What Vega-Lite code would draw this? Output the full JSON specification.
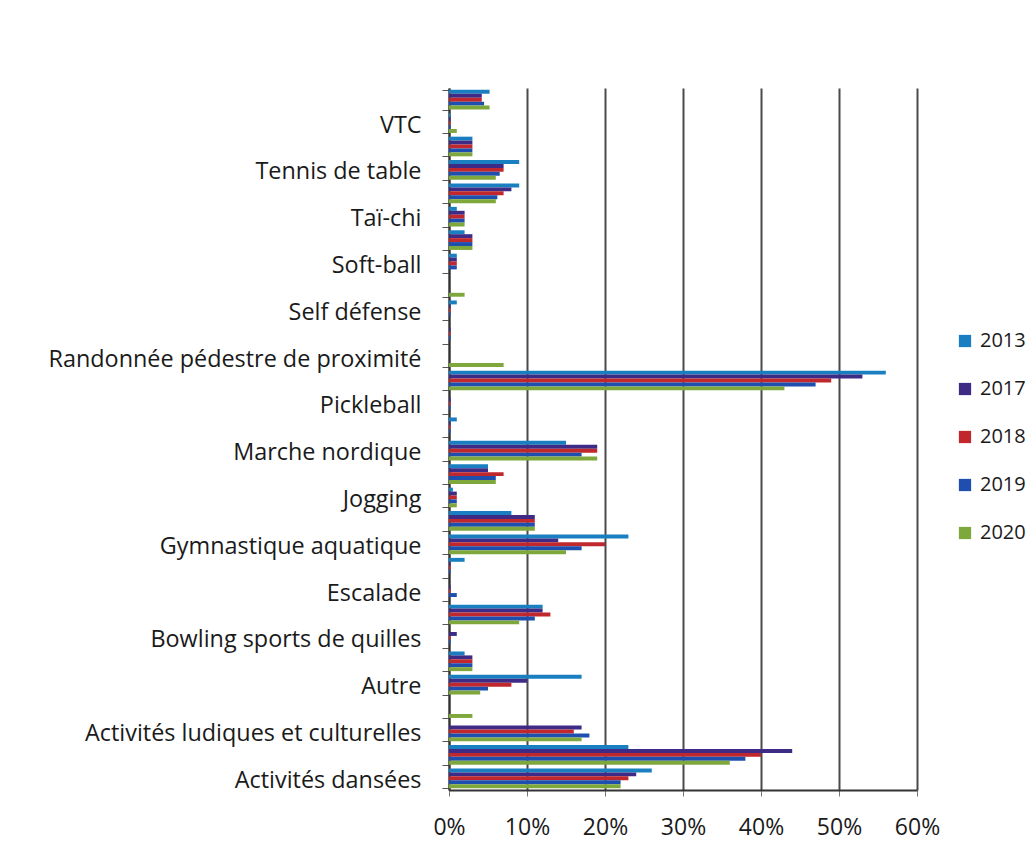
{
  "$schema": "https://vega.github.io/schema/vega-lite/v6.json",
  "width": 468,
  "height": 702,
  "autosize": {"type": "none"},
  "padding": {"left": 449, "top": 88, "right": 117, "bottom": 57},
  "background": "white",
  "config": {
    "view": {"stroke": null},
    "font": "Open Sans"
  },
  "data": {
    "values": [
      {"a": "Yoga", "y": "2013", "v": 5.2}, {"a": "Yoga", "y": "2017", "v": 4.2}, {"a": "Yoga", "y": "2018", "v": 4.2}, {"a": "Yoga", "y": "2019", "v": 4.5}, {"a": "Yoga", "y": "2020", "v": 5.2},
      {"a": "VTC", "y": "2013", "v": 0.2}, {"a": "VTC", "y": "2017", "v": 0.2}, {"a": "VTC", "y": "2018", "v": 0.2}, {"a": "VTC", "y": "2019", "v": 0.2}, {"a": "VTC", "y": "2020", "v": 1},
      {"a": "Tir à l'arc", "y": "2013", "v": 3}, {"a": "Tir à l'arc", "y": "2017", "v": 3}, {"a": "Tir à l'arc", "y": "2018", "v": 3}, {"a": "Tir à l'arc", "y": "2019", "v": 3}, {"a": "Tir à l'arc", "y": "2020", "v": 3},
      {"a": "Tennis de table", "y": "2013", "v": 9}, {"a": "Tennis de table", "y": "2017", "v": 7}, {"a": "Tennis de table", "y": "2018", "v": 7}, {"a": "Tennis de table", "y": "2019", "v": 6.5}, {"a": "Tennis de table", "y": "2020", "v": 6},
      {"a": "Tennis", "y": "2013", "v": 9}, {"a": "Tennis", "y": "2017", "v": 8}, {"a": "Tennis", "y": "2018", "v": 7}, {"a": "Tennis", "y": "2019", "v": 6.2}, {"a": "Tennis", "y": "2020", "v": 6},
      {"a": "Taï-chi", "y": "2013", "v": 1}, {"a": "Taï-chi", "y": "2017", "v": 2}, {"a": "Taï-chi", "y": "2018", "v": 2}, {"a": "Taï-chi", "y": "2019", "v": 2}, {"a": "Taï-chi", "y": "2020", "v": 2},
      {"a": "Swin golf", "y": "2013", "v": 2}, {"a": "Swin golf", "y": "2017", "v": 3}, {"a": "Swin golf", "y": "2018", "v": 3}, {"a": "Swin golf", "y": "2019", "v": 3}, {"a": "Swin golf", "y": "2020", "v": 3},
      {"a": "Soft-ball", "y": "2013", "v": 1}, {"a": "Soft-ball", "y": "2017", "v": 1}, {"a": "Soft-ball", "y": "2018", "v": 1}, {"a": "Soft-ball", "y": "2019", "v": 1}, {"a": "Soft-ball", "y": "2020", "v": 0},
      {"a": "Ski", "y": "2013", "v": 0}, {"a": "Ski", "y": "2017", "v": 0}, {"a": "Ski", "y": "2018", "v": 0}, {"a": "Ski", "y": "2019", "v": 0}, {"a": "Ski", "y": "2020", "v": 2},
      {"a": "Self défense", "y": "2013", "v": 1}, {"a": "Self défense", "y": "2017", "v": 0.2}, {"a": "Self défense", "y": "2018", "v": 0.2}, {"a": "Self défense", "y": "2019", "v": 0.2}, {"a": "Self défense", "y": "2020", "v": 0},
      {"a": "Raquettes", "y": "2013", "v": 0}, {"a": "Raquettes", "y": "2017", "v": 0.2}, {"a": "Raquettes", "y": "2018", "v": 0.2}, {"a": "Raquettes", "y": "2019", "v": 0.2}, {"a": "Raquettes", "y": "2020", "v": 0},
      {"a": "Randonnée pédestre de proximité", "y": "2013", "v": 0}, {"a": "Randonnée pédestre de proximité", "y": "2017", "v": 0}, {"a": "Randonnée pédestre de proximité", "y": "2018", "v": 0}, {"a": "Randonnée pédestre de proximité", "y": "2019", "v": 0}, {"a": "Randonnée pédestre de proximité", "y": "2020", "v": 7},
      {"a": "Randonnée pédestre", "y": "2013", "v": 56}, {"a": "Randonnée pédestre", "y": "2017", "v": 53}, {"a": "Randonnée pédestre", "y": "2018", "v": 49}, {"a": "Randonnée pédestre", "y": "2019", "v": 47}, {"a": "Randonnée pédestre", "y": "2020", "v": 43},
      {"a": "Pickleball", "y": "2013", "v": 0}, {"a": "Pickleball", "y": "2017", "v": 0.2}, {"a": "Pickleball", "y": "2018", "v": 0.2}, {"a": "Pickleball", "y": "2019", "v": 0.2}, {"a": "Pickleball", "y": "2020", "v": 0},
      {"a": "Orientation", "y": "2013", "v": 1}, {"a": "Orientation", "y": "2017", "v": 0.2}, {"a": "Orientation", "y": "2018", "v": 0.2}, {"a": "Orientation", "y": "2019", "v": 0.2}, {"a": "Orientation", "y": "2020", "v": 0},
      {"a": "Marche nordique", "y": "2013", "v": 15}, {"a": "Marche nordique", "y": "2017", "v": 19}, {"a": "Marche nordique", "y": "2018", "v": 19}, {"a": "Marche nordique", "y": "2019", "v": 17}, {"a": "Marche nordique", "y": "2020", "v": 19},
      {"a": "Marche aquatique", "y": "2013", "v": 5}, {"a": "Marche aquatique", "y": "2017", "v": 5}, {"a": "Marche aquatique", "y": "2018", "v": 7}, {"a": "Marche aquatique", "y": "2019", "v": 6}, {"a": "Marche aquatique", "y": "2020", "v": 6},
      {"a": "Jogging", "y": "2013", "v": 0.5}, {"a": "Jogging", "y": "2017", "v": 1}, {"a": "Jogging", "y": "2018", "v": 1}, {"a": "Jogging", "y": "2019", "v": 1}, {"a": "Jogging", "y": "2020", "v": 1},
      {"a": "Jeux de boules", "y": "2013", "v": 8}, {"a": "Jeux de boules", "y": "2017", "v": 11}, {"a": "Jeux de boules", "y": "2018", "v": 11}, {"a": "Jeux de boules", "y": "2019", "v": 11}, {"a": "Jeux de boules", "y": "2020", "v": 11},
      {"a": "Gymnastique aquatique", "y": "2013", "v": 23}, {"a": "Gymnastique aquatique", "y": "2017", "v": 14}, {"a": "Gymnastique aquatique", "y": "2018", "v": 20}, {"a": "Gymnastique aquatique", "y": "2019", "v": 17}, {"a": "Gymnastique aquatique", "y": "2020", "v": 15},
      {"a": "Golf", "y": "2013", "v": 2}, {"a": "Golf", "y": "2017", "v": 0.2}, {"a": "Golf", "y": "2018", "v": 0.2}, {"a": "Golf", "y": "2019", "v": 0.2}, {"a": "Golf", "y": "2020", "v": 0},
      {"a": "Escalade", "y": "2013", "v": 0}, {"a": "Escalade", "y": "2017", "v": 0.2}, {"a": "Escalade", "y": "2018", "v": 0.2}, {"a": "Escalade", "y": "2019", "v": 1}, {"a": "Escalade", "y": "2020", "v": 0},
      {"a": "Cyclotourisme", "y": "2013", "v": 12}, {"a": "Cyclotourisme", "y": "2017", "v": 12}, {"a": "Cyclotourisme", "y": "2018", "v": 13}, {"a": "Cyclotourisme", "y": "2019", "v": 11}, {"a": "Cyclotourisme", "y": "2020", "v": 9},
      {"a": "Bowling sports de quilles", "y": "2013", "v": 0}, {"a": "Bowling sports de quilles", "y": "2017", "v": 1}, {"a": "Bowling sports de quilles", "y": "2018", "v": 0.2}, {"a": "Bowling sports de quilles", "y": "2019", "v": 0.2}, {"a": "Bowling sports de quilles", "y": "2020", "v": 0},
      {"a": "Badminton", "y": "2013", "v": 2}, {"a": "Badminton", "y": "2017", "v": 3}, {"a": "Badminton", "y": "2018", "v": 3}, {"a": "Badminton", "y": "2019", "v": 3}, {"a": "Badminton", "y": "2020", "v": 3},
      {"a": "Autre", "y": "2013", "v": 17}, {"a": "Autre", "y": "2017", "v": 10}, {"a": "Autre", "y": "2018", "v": 8}, {"a": "Autre", "y": "2019", "v": 5}, {"a": "Autre", "y": "2020", "v": 4},
      {"a": "Activités physiques adaptées", "y": "2013", "v": 0}, {"a": "Activités physiques adaptées", "y": "2017", "v": 0}, {"a": "Activités physiques adaptées", "y": "2018", "v": 0}, {"a": "Activités physiques adaptées", "y": "2019", "v": 0}, {"a": "Activités physiques adaptées", "y": "2020", "v": 3},
      {"a": "Activités ludiques et culturelles", "y": "2013", "v": 0}, {"a": "Activités ludiques et culturelles", "y": "2017", "v": 17}, {"a": "Activités ludiques et culturelles", "y": "2018", "v": 16}, {"a": "Activités ludiques et culturelles", "y": "2019", "v": 18}, {"a": "Activités ludiques et culturelles", "y": "2020", "v": 17},
      {"a": "Activités gymniques", "y": "2013", "v": 23}, {"a": "Activités gymniques", "y": "2017", "v": 44}, {"a": "Activités gymniques", "y": "2018", "v": 40}, {"a": "Activités gymniques", "y": "2019", "v": 38}, {"a": "Activités gymniques", "y": "2020", "v": 36},
      {"a": "Activités dansées", "y": "2013", "v": 26}, {"a": "Activités dansées", "y": "2017", "v": 24}, {"a": "Activités dansées", "y": "2018", "v": 23}, {"a": "Activités dansées", "y": "2019", "v": 22}, {"a": "Activités dansées", "y": "2020", "v": 22}
    ]
  },
  "mark": {"type": "bar"},
  "encoding": {
    "y": {
      "field": "a",
      "type": "nominal",
      "sort": ["Yoga", "VTC", "Tir à l'arc", "Tennis de table", "Tennis", "Taï-chi", "Swin golf", "Soft-ball", "Ski", "Self défense", "Raquettes", "Randonnée pédestre de proximité", "Randonnée pédestre", "Pickleball", "Orientation", "Marche nordique", "Marche aquatique", "Jogging", "Jeux de boules", "Gymnastique aquatique", "Golf", "Escalade", "Cyclotourisme", "Bowling sports de quilles", "Badminton", "Autre", "Activités physiques adaptées", "Activités ludiques et culturelles", "Activités gymniques", "Activités dansées"],
      "scale": {"paddingInner": 0.16, "paddingOuter": 0.08},
      "axis": {
        "title": null,
        "labelExpr": "indexof(['VTC','Tennis de table','Taï-chi','Soft-ball','Self défense','Randonnée pédestre de proximité','Pickleball','Marche nordique','Jogging','Gymnastique aquatique','Escalade','Bowling sports de quilles','Autre','Activités ludiques et culturelles','Activités dansées'], datum.value) >= 0 ? datum.value : ''",
        "labelFont": "Open Sans",
        "labelFontSize": 23.4,
        "labelColor": "#1a1a1a",
        "labelPadding": 21,
        "labelLimit": 500,
        "labelOffset": 2,
        "tickBand": "extent",
        "tickSize": 7,
        "tickColor": "#555",
        "tickWidth": 1,
        "domainColor": "#333",
        "domainWidth": 2,
        "grid": false
      }
    },
    "yOffset": {
      "field": "y",
      "type": "nominal",
      "sort": ["2013", "2017", "2018", "2019", "2020"],
      "scale": {"paddingInner": 0, "paddingOuter": 0}
    },
    "x": {
      "field": "v",
      "type": "quantitative",
      "scale": {"domain": [0, 60], "nice": false},
      "axis": {
        "title": null,
        "values": [0, 10, 20, 30, 40, 50, 60],
        "labelExpr": "datum.value + '%'",
        "labelFlush": false,
        "labelFont": "Open Sans",
        "labelFontSize": 23,
        "labelColor": "#1a1a1a",
        "labelPadding": 20,
        "tickSize": 6,
        "tickColor": "#777",
        "domainColor": "#333",
        "domainWidth": 2,
        "grid": true,
        "gridColor": "#4a4a4a",
        "gridWidth": 2
      }
    },
    "color": {
      "field": "y",
      "type": "nominal",
      "scale": {
        "domain": ["2013", "2017", "2018", "2019", "2020"],
        "range": ["#1a7fc1", "#3d2b86", "#c0282d", "#1f4fae", "#7fa83c"]
      },
      "legend": {
        "title": null,
        "orient": "none",
        "legendX": 506,
        "legendY": 243,
        "symbolType": "square",
        "symbolSize": 150,
        "symbolStrokeWidth": 0,
        "labelFont": "Open Sans",
        "labelFontSize": 20,
        "labelColor": "#1a1a1a",
        "labelOffset": 5,
        "labelLimit": 100,
        "rowPadding": 28
      }
    }
  }
}
